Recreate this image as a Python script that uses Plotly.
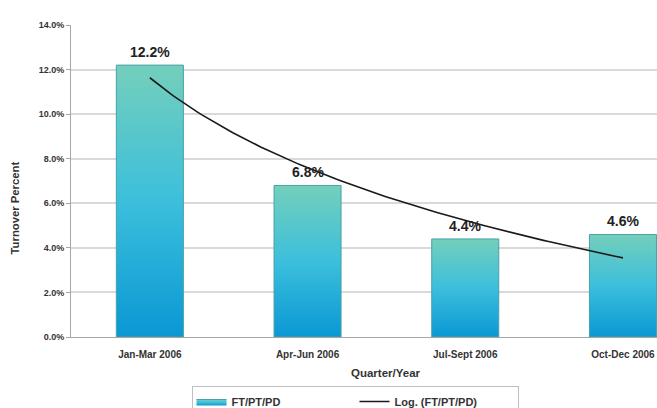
import numpy as np
import plotly.graph_objects as go

# Quarterly turnover data
quarters = ["Jan-Mar 2006", "Apr-Jun 2006", "Jul-Sept 2006", "Oct-Dec 2006"]
turnover = [12.2, 6.8, 4.4, 4.6]
y_ticks = [0, 2, 4, 6, 8, 10, 12, 14]

series_name = "FT/PT/PD"
trend_name = "Log. (FT/PT/PD)"

FONT = "Liberation Sans, Arial, sans-serif"
BAR_W = 0.425
grad = [[0.0, "#0a98d4"], [0.5, "#3cbfdc"], [1.0, "#74cfbb"]]

fig = go.Figure()

# Bars drawn as filled rectangles so each carries its own vertical gradient
for i, v in enumerate(turnover):
    xs = [i - BAR_W / 2, i + BAR_W / 2, i + BAR_W / 2, i - BAR_W / 2, i - BAR_W / 2]
    ys = [0, 0, v, v, 0]
    fig.add_trace(go.Scatter(
        x=xs, y=ys, mode="lines", fill="toself",
        fillgradient=dict(type="vertical", colorscale=grad, start=0, stop=v),
        line=dict(color="#4a9fa8", width=1),
        name=series_name, legendgroup="bars", showlegend=(i == 0),
        hoverinfo="skip",
    ))

# Logarithmic trendline fitted to the series
xi = np.arange(1, len(turnover) + 1)
a, b = np.polyfit(np.log(xi), turnover, 1)
xt = np.linspace(1, len(turnover), 120)
fig.add_trace(go.Scatter(
    x=xt - 1, y=a * np.log(xt) + b, mode="lines",
    line=dict(color="#1a1a1a", width=1.6),
    name=trend_name, hoverinfo="skip",
))

step_px = 157.7
plot_w = 657 - 71
x_hi = -0.5 + plot_w / step_px

# Value labels above bars
annotations = [
    dict(x=i, y=v, xref="x", yref="y", text=f"{v:.1f}%", showarrow=False,
         yanchor="bottom", yshift=3,
         font=dict(family=FONT, size=14, color="#222222", weight="bold"))
    for i, v in enumerate(turnover)
]
# Axis titles
annotations.append(dict(
    x=(len(quarters) - 1) / 2, y=-0.09, xref="x", yref="paper",
    text="Quarter/Year", showarrow=False, yanchor="top",
    font=dict(family=FONT, size=11.5, color="#333333", weight="bold"),
))
annotations.append(dict(
    x=-0.095, y=0.413, xref="paper", yref="paper", xanchor="center",
    text="Turnover Percent", showarrow=False, textangle=-90,
    font=dict(family=FONT, size=11.3, color="#333333", weight="bold"),
))

fig.update_layout(
    width=657, height=408,
    margin=dict(l=71, r=0, t=25, b=71, autoexpand=False),
    paper_bgcolor="white", plot_bgcolor="white",
    font=dict(family=FONT, color="#333333"),
    xaxis=dict(
        range=[-0.5, x_hi], tickmode="array",
        tickvals=list(range(len(quarters))), ticktext=quarters,
        tickfont=dict(family=FONT, size=10, color="#333333", weight="bold"),
        showgrid=False, zeroline=False, showline=True, linecolor="#a6a6a6",
        linewidth=1, ticks="", ticklabelstandoff=8,
    ),
    yaxis=dict(
        range=[0, 14], tickvals=y_ticks,
        ticktext=[f"{t:.1f}%" for t in y_ticks],
        tickfont=dict(family=FONT, size=9, color="#333333", weight="bold"),
        showgrid=True, gridcolor="#d9d9d9", gridwidth=1.5,
        zeroline=False, showline=True, linecolor="#a6a6a6", linewidth=1,
        ticks="outside", ticklen=4, tickcolor="#a6a6a6",
    ),
    legend=dict(
        orientation="h", x=(355 - 71) / plot_w, xanchor="center",
        y=-(386 - 337) / 312, yanchor="top",
        bordercolor="#bfbfbf", borderwidth=1, bgcolor="white",
        font=dict(family=FONT, size=11, color="#333333", weight="bold"),
        entrywidth=118, entrywidthmode="pixels", itemwidth=30,
        tracegroupgap=0,
    ),
    annotations=annotations,
)

fig.write_html("out.html")
